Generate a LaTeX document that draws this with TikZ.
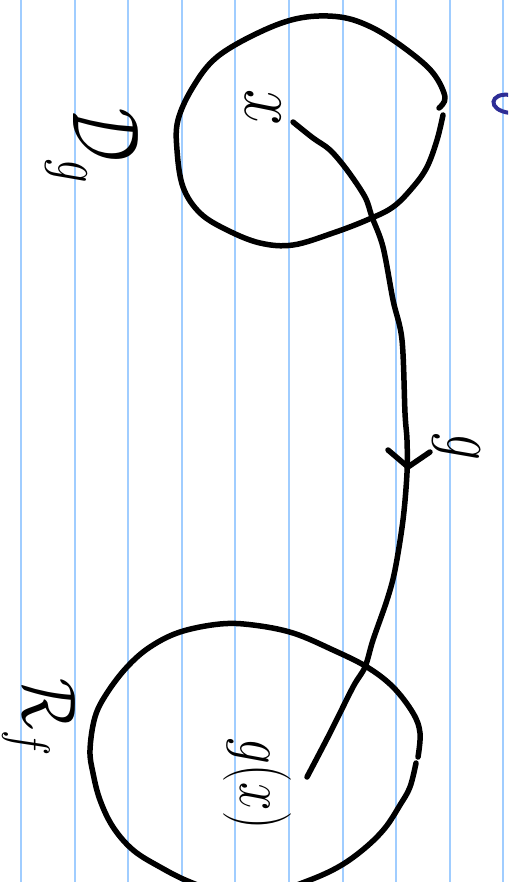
\RequirePackage{fix-cm}
\documentclass[tikz,border=0pt]{standalone}
\definecolor{rulecol}{RGB}{160,205,255}
\definecolor{bluepen}{RGB}{45,45,150}
\begin{document}
\begin{tikzpicture}[x=1pt,y=-1pt,
  pen/.style={line width=5.5pt,line cap=round,line join=round,black},
  rulel/.style={line width=2pt,rulecol},
  lbl/.style={rotate=-90,inner sep=0pt}]
\useasboundingbox (0,0) rectangle (508,882);
\fill[white] (0,0) rectangle (508,882);
\begin{scope}
\clip (0,0) rectangle (508,882);
\foreach \i in {0,...,9} \draw[rulel] ({21+53.6*\i},0) -- ({21+53.6*\i},882);
% top circle (domain)
\draw[pen] plot[smooth,tension=0.6] coordinates {(443,115) (437,140) (427,167) (413,187) (393,207) (367,220) (333,233) (293,245) (260,243) (227,230) (200,213) (183,187) (177,150) (178,120) (193,87) (217,57) (260,32) (300,18) (340,17) (373,28) (407,50) (433,73) (445,97) (439,108)};
% bottom circle (range)
\draw[pen] plot[smooth,tension=0.6] coordinates {(416,763) (410,787) (400,805) (385,828) (365,848) (340,866) (310,880) (270,893) (230,895) (190,882) (160,867) (133,850) (113,827) (100,800) (93,773) (90,750) (95,717) (107,693) (127,667) (150,647) (180,632) (220,624) (253,625) (293,633) (333,650) (367,667) (393,687) (413,713) (420,733) (418,757)};
% blue pen mark
\draw[line width=4pt,bluepen,line cap=round] (510,95) .. controls (490,92) and (486,110) .. (510,113);
\end{scope}
% labels
\node[lbl] (xl) at (263,108) {\fontsize{82}{82}\selectfont\scalebox{0.8}[1]{$x$}};
\node[lbl] (gx) at (257,784) {\fontsize{68}{68}\selectfont\scalebox{0.75}[1]{$g(x)$}};
\node[lbl] (Dg) at (92,146) {\fontsize{95}{95}\selectfont\scalebox{0.7}[1]{$\mathcal{D}_g$}};
\node[lbl] (Rf) at (39,717) {\fontsize{76}{76}\selectfont\scalebox{0.8}[1]{$\mathcal{R}_f$}};
\node[lbl] (gl) at (456,447) {\fontsize{76}{76}\selectfont\scalebox{0.7}[1]{$g$}};
% connector x -> g(x)
\coordinate (src) at (293,122);
\coordinate (dst) at (307,777);
\coordinate (tip) at (408,467);
\draw[pen] plot[smooth,tension=0.55] coordinates {(src) (313,138) (330,150) (347,170) (365,197) (372,217) (383,247) (393,300) (402,340) (405,413) (407,440) (407,473) (403,520) (395,570) (387,600) (373,640) (365,667) (353,687) (330,733) (dst)};
\draw[pen] (388,450) -- (tip) -- (430,452);
\end{tikzpicture}
\end{document}
